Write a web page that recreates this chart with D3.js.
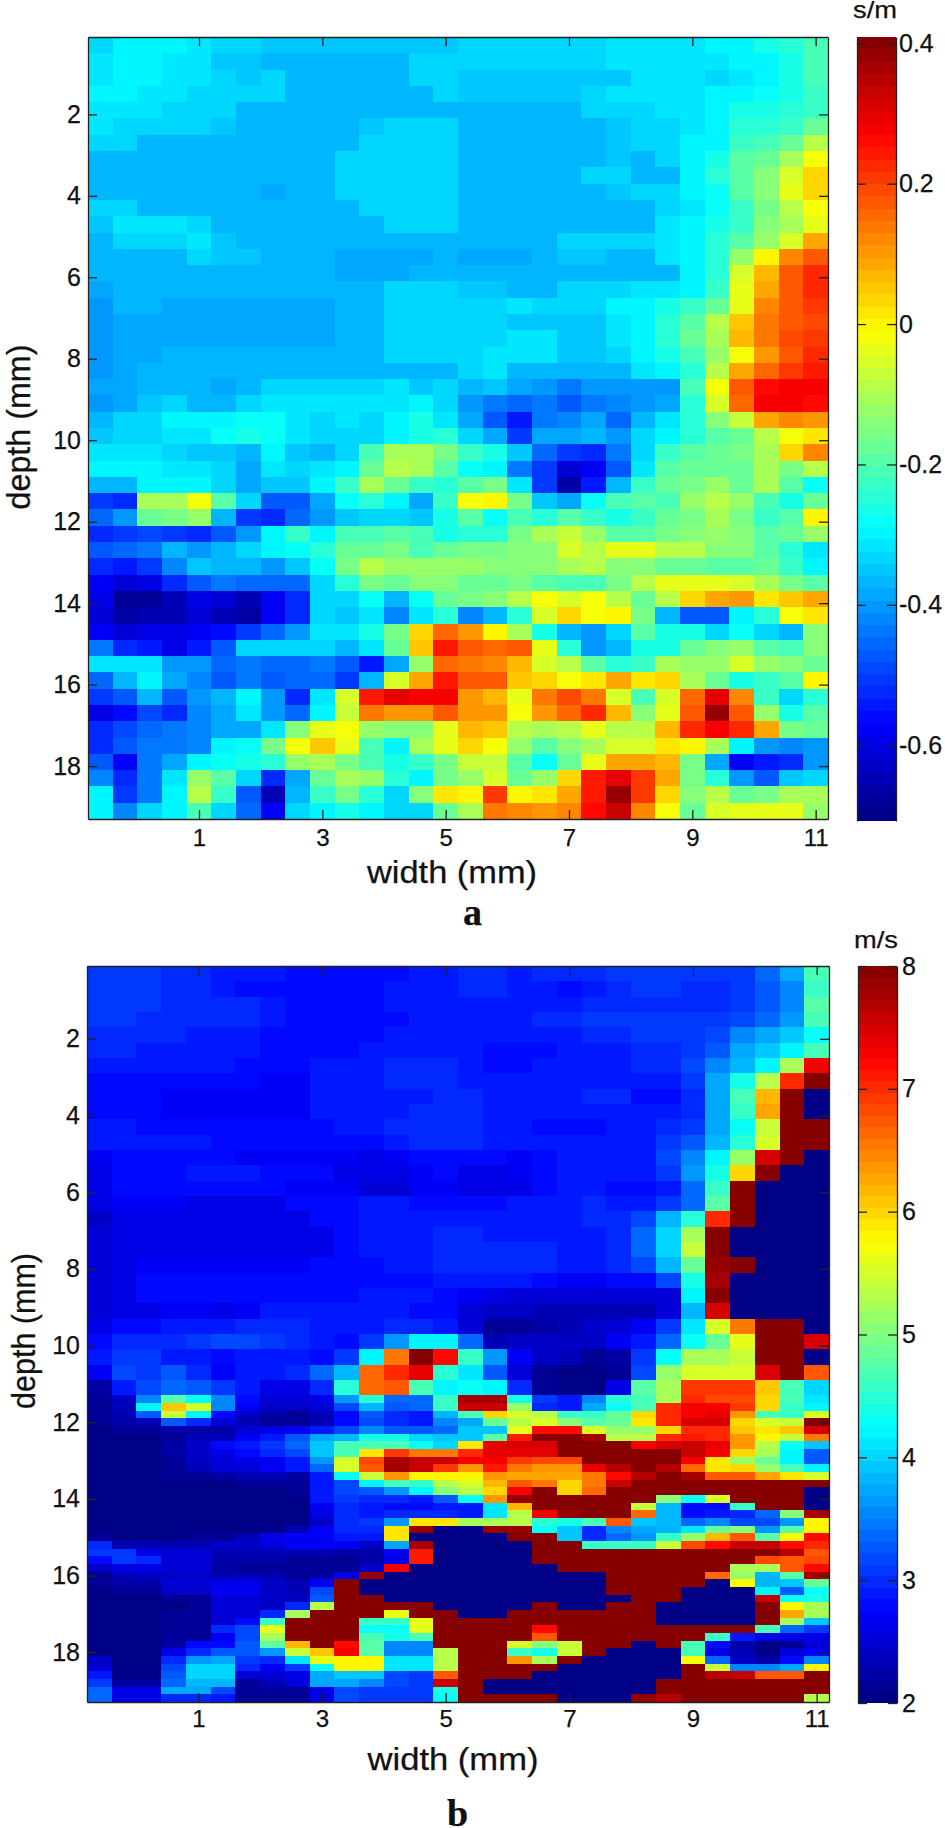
<!DOCTYPE html>
<html>
<head>
<meta charset="utf-8" />
<title>Depth maps</title>
<script src="https://cdn.jsdelivr.net/npm/d3@7"></script>
<style>
    body { margin: 0; background: #fff; }
    svg { display: block; }
    text { font-family: "Liberation Sans", Arial, sans-serif; fill: #111; stroke: #111; stroke-width: 0.25px; }
    .domain, .tick line { stroke: #222; stroke-width: 1.3px; }
    .panel { font-family: "Liberation Serif", serif; font-weight: bold; }
</style>
</head>
<body>
<svg id="chart" width="945" height="1828"></svg>
<script>
var widthTicks = [1, 3, 5, 7, 9, 11];
var depthTicks = [2, 4, 6, 8, 10, 12, 14, 16, 18];
var sigmaTicks = [-0.6, -0.4, -0.2, 0, 0.2, 0.4];
var speedTicks = [2, 3, 4, 5, 6, 7, 8];

// panel a, s/m, one row per 0.4 mm of depth, 30 columns of 0.4 mm
var sigma = [
[-.34,-.30,-.30,-.30,-.32,-.34,-.34,-.35,-.35,-.35,-.35,-.35,-.35,-.35,-.35,-.34,-.34,-.34,-.34,-.34,-.34,-.32,-.32,-.32,-.32,-.30,-.29,-.27,-.25,-.21],
[-.31,-.29,-.29,-.31,-.32,-.35,-.35,-.36,-.36,-.36,-.36,-.36,-.36,-.34,-.34,-.34,-.34,-.34,-.34,-.34,-.34,-.32,-.32,-.32,-.32,-.31,-.30,-.29,-.26,-.21],
[-.32,-.29,-.30,-.31,-.32,-.34,-.35,-.34,-.36,-.36,-.36,-.36,-.36,-.34,-.34,-.35,-.35,-.35,-.35,-.35,-.35,-.35,-.32,-.32,-.32,-.34,-.31,-.30,-.26,-.21],
[-.29,-.29,-.31,-.31,-.34,-.34,-.34,-.34,-.36,-.36,-.36,-.36,-.36,-.36,-.34,-.35,-.35,-.35,-.35,-.35,-.34,-.32,-.32,-.32,-.31,-.30,-.29,-.28,-.26,-.22],
[-.31,-.31,-.31,-.34,-.34,-.34,-.36,-.36,-.36,-.36,-.36,-.36,-.36,-.36,-.37,-.37,-.36,-.36,-.36,-.36,-.34,-.34,-.34,-.32,-.31,-.29,-.27,-.26,-.25,-.22],
[-.32,-.34,-.34,-.34,-.34,-.35,-.36,-.36,-.36,-.36,-.36,-.35,-.34,-.34,-.34,-.36,-.36,-.36,-.36,-.36,-.36,-.35,-.34,-.34,-.31,-.29,-.25,-.24,-.22,-.17],
[-.34,-.34,-.36,-.36,-.36,-.36,-.36,-.36,-.36,-.36,-.36,-.34,-.34,-.34,-.34,-.36,-.36,-.36,-.36,-.36,-.36,-.35,-.34,-.34,-.29,-.29,-.23,-.21,-.18,-.09],
[-.37,-.37,-.37,-.37,-.37,-.37,-.37,-.37,-.37,-.37,-.34,-.34,-.34,-.34,-.34,-.36,-.36,-.36,-.36,-.36,-.36,-.35,-.36,-.34,-.29,-.26,-.20,-.18,-.10,-.02],
[-.37,-.37,-.37,-.37,-.37,-.37,-.37,-.37,-.37,-.37,-.34,-.34,-.34,-.34,-.34,-.36,-.36,-.36,-.36,-.36,-.34,-.34,-.36,-.36,-.30,-.25,-.19,-.14,-.05,.04],
[-.37,-.37,-.37,-.37,-.37,-.37,-.37,-.38,-.37,-.37,-.34,-.34,-.34,-.34,-.34,-.36,-.36,-.36,-.36,-.36,-.36,-.35,-.34,-.34,-.30,-.28,-.20,-.14,-.04,.03],
[-.34,-.34,-.36,-.36,-.36,-.36,-.36,-.36,-.36,-.36,-.36,-.34,-.34,-.34,-.34,-.36,-.36,-.36,-.36,-.36,-.36,-.36,-.36,-.34,-.31,-.28,-.22,-.15,-.08,-.01],
[-.35,-.32,-.32,-.32,-.34,-.36,-.36,-.36,-.36,-.36,-.36,-.36,-.34,-.34,-.34,-.36,-.36,-.36,-.36,-.36,-.36,-.36,-.37,-.32,-.30,-.26,-.22,-.14,-.11,-.04],
[-.36,-.34,-.34,-.34,-.32,-.35,-.36,-.36,-.36,-.37,-.37,-.37,-.37,-.37,-.37,-.37,-.37,-.37,-.36,-.34,-.34,-.34,-.34,-.31,-.29,-.25,-.20,-.12,-.05,.08],
[-.37,-.36,-.36,-.36,-.34,-.35,-.35,-.36,-.36,-.36,-.38,-.38,-.38,-.38,-.37,-.38,-.38,-.38,-.37,-.35,-.35,-.36,-.36,-.32,-.29,-.25,-.12,.00,.12,.18],
[-.37,-.36,-.36,-.36,-.36,-.36,-.36,-.36,-.36,-.36,-.38,-.38,-.38,-.37,-.37,-.37,-.37,-.37,-.37,-.37,-.37,-.37,-.37,-.37,-.29,-.24,-.05,.07,.17,.22],
[-.38,-.37,-.36,-.37,-.37,-.37,-.37,-.36,-.36,-.36,-.36,-.36,-.34,-.34,-.34,-.35,-.35,-.36,-.36,-.34,-.34,-.34,-.32,-.31,-.29,-.22,-.03,.09,.18,.22],
[-.40,-.37,-.37,-.38,-.38,-.38,-.38,-.38,-.38,-.38,-.37,-.37,-.34,-.34,-.34,-.34,-.34,-.31,-.34,-.34,-.34,-.30,-.29,-.27,-.23,-.18,-.03,.12,.18,.21],
[-.40,-.38,-.38,-.38,-.38,-.38,-.38,-.38,-.38,-.38,-.37,-.37,-.34,-.34,-.34,-.34,-.34,-.35,-.35,-.35,-.35,-.32,-.29,-.24,-.19,-.09,.05,.13,.18,.19],
[-.40,-.38,-.38,-.38,-.38,-.38,-.38,-.38,-.38,-.38,-.37,-.37,-.34,-.34,-.34,-.34,-.34,-.32,-.32,-.35,-.35,-.32,-.29,-.24,-.18,-.11,.07,.13,.19,.20],
[-.40,-.38,-.38,-.37,-.37,-.37,-.37,-.37,-.37,-.37,-.36,-.36,-.34,-.34,-.34,-.34,-.31,-.31,-.32,-.35,-.35,-.34,-.29,-.27,-.21,-.12,-.01,.10,.17,.22],
[-.40,-.38,-.36,-.36,-.36,-.36,-.36,-.36,-.36,-.36,-.36,-.36,-.36,-.37,-.37,-.34,-.31,-.36,-.37,-.37,-.37,-.36,-.32,-.30,-.24,-.09,.09,.16,.20,.24],
[-.38,-.38,-.36,-.36,-.37,-.38,-.37,-.34,-.34,-.34,-.34,-.34,-.32,-.35,-.34,-.36,-.35,-.38,-.40,-.43,-.40,-.41,-.41,-.40,-.21,-.02,.18,.26,.27,.27],
[-.41,-.38,-.35,-.34,-.36,-.36,-.34,-.32,-.32,-.31,-.31,-.31,-.31,-.29,-.34,-.40,-.43,-.45,-.44,-.48,-.43,-.42,-.41,-.39,-.24,-.05,.16,.27,.27,.26],
[-.36,-.34,-.33,-.30,-.29,-.29,-.28,-.28,-.31,-.33,-.31,-.33,-.30,-.27,-.31,-.38,-.48,-.54,-.44,-.42,-.39,-.46,-.37,-.31,-.24,-.14,-.07,.09,.12,.11],
[-.35,-.33,-.33,-.32,-.31,-.28,-.27,-.28,-.31,-.33,-.33,-.33,-.30,-.26,-.24,-.33,-.39,-.50,-.39,-.38,-.36,-.41,-.33,-.29,-.24,-.20,-.17,-.09,-.02,.02],
[-.31,-.31,-.31,-.33,-.35,-.35,-.36,-.30,-.35,-.37,-.33,-.21,-.10,-.10,-.16,-.23,-.26,-.35,-.46,-.50,-.52,-.44,-.33,-.23,-.19,-.17,-.15,-.10,.03,.12],
[-.29,-.29,-.30,-.31,-.31,-.34,-.38,-.31,-.34,-.32,-.30,-.17,-.09,-.10,-.20,-.28,-.30,-.43,-.50,-.62,-.58,-.48,-.31,-.20,-.17,-.18,-.18,-.10,-.15,-.09],
[-.37,-.37,-.29,-.29,-.29,-.34,-.38,-.35,-.35,-.30,-.23,-.11,-.18,-.22,-.25,-.20,-.16,-.31,-.50,-.66,-.55,-.37,-.22,-.18,-.15,-.13,-.17,-.11,-.20,-.28],
[-.50,-.52,-.10,-.10,-.01,-.20,-.34,-.48,-.48,-.38,-.28,-.25,-.30,-.38,-.22,-.02,.00,-.15,-.35,-.38,-.28,-.21,-.20,-.21,-.13,-.09,-.13,-.21,-.26,-.17],
[-.46,-.40,-.17,-.16,-.13,-.37,-.50,-.53,-.46,-.40,-.35,-.33,-.33,-.35,-.27,-.20,-.28,-.21,-.25,-.19,-.22,-.26,-.23,-.18,-.15,-.10,-.15,-.23,-.19,.00],
[-.53,-.50,-.49,-.50,-.52,-.48,-.41,-.29,-.22,-.30,-.21,-.21,-.19,-.21,-.27,-.24,-.24,-.15,-.10,-.07,-.12,-.19,-.20,-.16,-.14,-.13,-.14,-.19,-.18,-.12],
[-.48,-.46,-.43,-.37,-.41,-.36,-.33,-.29,-.28,-.24,-.18,-.17,-.16,-.21,-.18,-.16,-.16,-.14,-.14,-.05,-.09,-.03,-.04,-.08,-.09,-.14,-.14,-.19,-.24,-.32],
[-.52,-.54,-.50,-.42,-.35,-.36,-.37,-.40,-.35,-.28,-.15,-.09,-.12,-.13,-.13,-.13,-.14,-.14,-.14,-.10,-.09,-.14,-.14,-.18,-.17,-.19,-.20,-.18,-.23,-.29],
[-.58,-.62,-.60,-.53,-.47,-.44,-.46,-.45,-.45,-.33,-.24,-.16,-.17,-.14,-.14,-.17,-.17,-.15,-.20,-.21,-.21,-.16,-.09,-.03,-.03,-.04,-.05,-.10,-.15,-.19],
[-.60,-.68,-.69,-.64,-.59,-.62,-.64,-.58,-.52,-.34,-.33,-.28,-.37,-.28,-.17,-.15,-.14,-.09,-.02,-.05,-.02,-.09,-.18,-.08,.04,.09,.10,.02,.05,.08],
[-.62,-.66,-.65,-.64,-.62,-.65,-.66,-.58,-.52,-.33,-.35,-.31,-.42,-.32,-.24,-.42,-.36,-.24,-.05,.03,-.02,.00,-.16,-.36,-.47,-.47,-.30,-.25,-.01,.02],
[-.58,-.62,-.60,-.60,-.58,-.56,-.50,-.46,-.41,-.32,-.31,-.27,-.15,.04,.15,.10,.00,-.10,-.26,-.36,-.40,-.33,-.20,-.27,-.27,-.33,-.28,-.33,-.37,-.14],
[-.44,-.52,-.54,-.60,-.54,-.47,-.34,-.33,-.33,-.33,-.37,-.32,-.17,.05,.24,.17,.16,.17,-.03,-.25,-.41,-.36,-.27,-.27,-.17,-.14,-.13,-.20,-.21,-.14],
[-.31,-.32,-.31,-.41,-.41,-.46,-.43,-.45,-.45,-.44,-.48,-.55,-.38,-.12,.15,.14,.12,.06,-.05,-.09,-.20,-.25,-.22,-.10,-.12,-.13,-.06,-.12,-.14,-.18],
[-.46,-.36,-.29,-.38,-.42,-.47,-.44,-.48,-.46,-.46,-.50,-.37,-.05,.08,.24,.17,.18,.05,.03,-.01,.01,.08,.02,.04,-.10,-.18,-.27,-.23,-.19,.00],
[-.50,-.47,-.37,-.47,-.41,-.37,-.30,-.41,-.52,-.31,-.06,.24,.30,.28,.28,.10,.07,-.03,.13,.19,.13,-.06,-.21,-.06,.16,.30,.12,-.23,-.34,-.25],
[-.60,-.56,-.49,-.52,-.42,-.38,-.31,-.41,-.45,-.29,-.07,.14,.10,.10,.17,.11,.10,-.02,.10,.15,.22,.07,-.14,-.03,.18,.38,.18,-.12,-.27,-.19],
[-.53,-.49,-.46,-.44,-.42,-.38,-.38,-.31,-.14,-.03,-.02,-.12,-.14,-.14,-.04,.07,.05,-.08,-.10,-.09,-.04,-.09,-.08,.06,.22,.28,.23,.08,-.15,-.17],
[-.52,-.47,-.44,-.43,-.42,-.30,-.28,-.15,-.02,.05,-.03,-.21,-.29,-.11,-.03,.04,-.02,-.13,-.19,-.14,-.11,-.06,-.05,.02,.00,-.10,-.30,-.40,-.42,-.40],
[-.48,-.58,-.44,-.38,-.30,-.28,-.27,-.25,-.13,-.10,-.15,-.21,-.26,-.22,-.15,-.07,-.07,-.20,-.28,-.17,-.03,.09,.08,.06,-.16,-.38,-.58,-.55,-.52,-.40],
[-.42,-.53,-.43,-.31,-.12,-.19,-.33,-.52,-.38,-.17,-.11,-.12,-.24,-.30,-.15,-.12,-.06,-.18,-.13,.03,.24,.30,.21,.09,-.15,-.24,-.40,-.48,-.35,-.34],
[-.30,-.50,-.44,-.29,-.09,-.22,-.48,-.64,-.37,-.22,-.16,-.25,-.33,-.14,.01,.00,.20,.00,.02,.08,.25,.38,.20,.03,-.14,-.08,-.18,-.16,-.10,-.10],
[-.30,-.42,-.33,-.29,-.21,-.33,-.45,-.58,-.34,-.29,-.27,-.29,-.34,-.33,-.17,-.10,.14,.12,.10,.12,.26,.33,.12,-.02,-.18,-.06,-.03,-.03,-.04,-.13]
];

// panel b, m/s, rows of 0.4 mm down to 11.3 mm
var speed = [
[3.05,3.05,3.05,3.0,2.95,2.9,2.85,2.85,2.8,2.8,2.8,2.8,2.8,2.85,2.9,3.0,3.0,2.9,2.95,2.95,2.95,3.05,3.05,3.05,3.05,3.1,3.1,3.4,3.75,4.65],
[3.05,3.05,3.05,3.0,2.95,2.9,2.8,2.8,2.8,2.8,2.8,2.8,2.9,2.85,2.9,3.0,2.95,2.85,2.85,2.8,2.9,3.0,3.05,3.05,3.0,3.0,3.05,3.3,3.55,4.55],
[3.05,3.05,3.05,3.0,2.95,2.95,2.95,2.9,2.8,2.8,2.8,2.8,2.9,2.9,2.85,2.9,2.9,2.85,2.85,2.9,2.95,2.95,3.0,3.0,3.0,3.0,3.1,3.3,3.55,4.75],
[3.05,3.05,3.0,3.0,2.95,2.95,2.95,2.9,2.8,2.8,2.8,2.8,2.8,2.9,2.85,2.9,2.9,2.85,2.95,2.95,3.05,3.05,3.05,3.05,3.05,3.05,3.15,3.4,3.65,4.65],
[3.0,3.0,2.95,2.95,2.9,2.9,2.9,2.8,2.8,2.8,2.8,2.8,2.9,2.9,2.9,2.9,2.85,2.85,2.9,2.9,2.95,2.95,3.05,3.05,3.05,3.2,3.5,3.75,3.95,4.3],
[2.95,2.95,2.9,2.85,2.85,2.85,2.85,2.75,2.75,2.75,2.75,2.9,2.9,2.9,2.9,2.85,2.8,2.8,2.8,2.85,2.85,2.85,2.95,3.0,3.1,3.3,3.7,3.95,4.2,4.7],
[2.9,2.9,2.85,2.85,2.85,2.85,2.75,2.75,2.75,2.85,2.9,2.9,2.95,2.95,2.95,2.9,2.8,2.8,2.85,2.85,2.85,2.85,2.95,3.0,3.15,3.5,3.85,4.2,5.2,7.3],
[2.8,2.8,2.75,2.75,2.75,2.75,2.75,2.7,2.7,2.85,2.85,2.9,2.95,2.95,2.95,2.9,2.85,2.85,2.85,2.85,2.85,2.85,2.85,2.9,3.1,3.75,4.4,5.3,7.0,8],
[2.8,2.8,2.75,2.7,2.7,2.7,2.7,2.7,2.7,2.85,2.85,2.85,2.85,2.85,2.95,2.95,2.9,2.85,2.85,2.85,2.95,2.95,2.8,2.8,3.0,3.75,4.7,6.2,8,2.05],
[2.8,2.8,2.75,2.7,2.7,2.7,2.7,2.7,2.7,2.85,2.85,2.85,2.9,2.95,2.95,2.95,2.9,2.85,2.85,2.85,2.9,2.9,2.9,2.9,3.0,3.7,4.6,6.3,8,2.05],
[2.85,2.85,2.8,2.8,2.75,2.75,2.75,2.75,2.75,2.75,2.9,2.9,3.0,3.0,2.95,2.95,2.9,2.85,2.8,2.75,2.8,2.85,2.85,3.0,3.1,3.75,4.25,5.4,8,8],
[2.85,2.85,2.85,2.85,2.85,2.8,2.75,2.75,2.75,2.75,2.75,2.8,2.9,2.95,2.95,2.95,2.9,2.85,2.85,2.85,2.9,2.9,2.9,3.05,3.3,3.8,4.5,5.55,8,8],
[2.7,2.75,2.8,2.8,2.8,2.8,2.7,2.7,2.7,2.7,2.7,2.65,2.7,2.75,2.8,2.75,2.75,2.7,2.8,2.9,2.9,2.9,2.9,3.2,3.5,4.2,5.1,7.5,8,2.05],
[2.6,2.75,2.8,2.8,2.9,2.9,2.9,2.75,2.75,2.75,2.6,2.6,2.6,2.7,2.75,2.65,2.65,2.7,2.8,2.9,2.9,2.9,2.85,3.1,3.6,4.35,6.0,8,2.05,2.05],
[2.6,2.75,2.75,2.75,2.75,2.75,2.75,2.75,2.7,2.7,2.7,2.55,2.55,2.7,2.7,2.65,2.65,2.65,2.75,2.85,2.85,2.8,2.75,2.9,3.4,4.6,8,2.05,2.05,2.05],
[2.65,2.7,2.7,2.7,2.65,2.65,2.65,2.65,2.75,2.75,2.75,2.85,2.85,2.8,2.8,2.8,2.75,2.9,2.9,2.9,2.95,2.9,2.9,3.1,3.4,4.75,8,2.05,2.05,2.05],
[2.45,2.65,2.65,2.65,2.65,2.6,2.6,2.6,2.6,2.75,2.75,2.9,2.85,2.85,2.9,2.9,2.9,2.9,2.9,2.9,2.95,3.0,3.2,3.8,4.5,7.0,8,2.05,2.05,2.05],
[2.5,2.65,2.65,2.65,2.65,2.6,2.6,2.6,2.6,2.65,2.75,2.9,2.85,2.85,2.95,2.95,2.9,2.9,2.9,2.9,2.9,2.95,3.4,4.0,5.2,8,2.05,2.05,2.05,2.05],
[2.5,2.65,2.65,2.65,2.65,2.65,2.6,2.6,2.6,2.6,2.75,2.85,2.85,2.9,2.95,2.95,3.0,3.0,3.0,2.9,2.9,2.95,3.4,4.0,5.4,8,2.05,2.05,2.05,2.05],
[2.5,2.65,2.7,2.7,2.7,2.7,2.7,2.7,2.7,2.75,2.75,2.75,2.85,2.9,2.95,2.95,3.0,3.0,3.0,2.9,2.9,2.95,3.15,3.8,4.9,7.9,8,2.05,2.05,2.05],
[2.5,2.6,2.75,2.75,2.75,2.75,2.75,2.75,2.75,2.75,2.75,2.75,2.75,2.8,2.85,2.85,2.85,2.85,2.8,2.7,2.7,2.75,2.75,3.2,4.4,7.8,2.05,2.05,2.05,2.05],
[2.5,2.6,2.75,2.75,2.75,2.75,2.75,2.75,2.8,2.8,2.8,2.85,2.85,2.85,2.75,2.7,2.65,2.55,2.5,2.5,2.5,2.5,2.5,2.55,4.2,8,2.05,2.05,2.05,2.05],
[2.55,2.6,2.65,2.7,2.7,2.65,2.7,2.85,2.85,2.85,2.9,2.9,2.9,2.8,2.75,2.55,2.45,2.4,2.3,2.35,2.35,2.35,2.35,2.5,3.85,7.5,2.05,2.05,2.05,2.05],
[2.65,2.8,2.8,2.9,2.9,2.9,2.95,2.95,2.95,2.9,2.9,2.85,3.0,2.95,2.9,2.55,2.15,2.15,2.25,2.35,2.4,2.5,2.7,3.1,4.1,5.5,6.5,8,8,2.05],
[2.75,2.95,2.95,2.95,3.05,3.15,3.15,3.1,3.0,2.9,2.8,3.1,3.6,4.2,4.2,3.4,2.35,2.4,2.4,2.4,2.45,2.7,2.9,3.4,4.25,4.85,5.6,8,8,7.5],
[2.85,3.05,3.05,2.9,2.85,2.75,2.9,2.9,2.85,2.8,3.1,4.2,6.5,8,7.2,4.55,3.6,2.7,2.4,2.3,2.15,2.2,3.05,4.3,5.2,5.2,5.4,8,8,2.05],
[2.7,3.2,3.1,3.25,2.95,2.7,2.85,2.85,3.0,3.4,3.8,6.6,7.0,7.4,4.5,4.1,3.3,2.5,2.1,2.05,2.05,2.1,3.2,5.1,5.5,5.5,5.5,7.5,8,6.7],
[2.25,2.85,3.2,3.35,3.3,3.05,2.85,2.6,2.65,2.95,4.5,6.6,6.7,4.7,4.2,4.3,4.2,3.0,2.1,2.05,2.05,2.6,4.75,5.2,6.9,6.9,6.9,6.1,4.7,4.0]
];

// panel b from 11.3 mm down, rows of 0.2 mm
var speedDeep = [
[2.15,2.4,3.5,4.8,4.3,3.5,2.75,2.55,2.5,2.65,3.6,4.5,3.4,3.4,4.6,7.8,7.8,4.4,3.1,2.9,3.5,4.5,4.7,5.2,7.0,6.8,6.8,6.0,4.7,4.1],
[2.15,2.35,4.2,6.1,5.5,3.5,2.7,2.45,2.4,2.55,3.2,3.8,3.3,3.4,4.6,7.6,7.6,5.1,3.0,2.9,3.7,4.3,4.7,7.0,7.3,7.3,6.9,6.0,4.6,4.2],
[2.15,2.3,3.3,5.4,4.2,2.8,2.4,2.2,2.15,2.3,2.8,3.3,3.0,2.9,3.8,4.7,6.0,5.5,5.3,4.6,4.6,4.9,6.0,7.0,7.3,7.4,6.4,4.7,4.6,5.5],
[2.1,2.2,2.3,3.3,3.0,2.5,2.3,2.15,2.1,2.3,2.8,3.2,2.95,2.85,3.5,3.7,4.9,5.3,5.5,5.0,4.8,4.9,5.9,7.0,7.5,7.5,6.0,5.5,5.4,8],
[2.05,2.1,2.15,2.2,2.2,2.2,2.5,2.6,2.7,2.85,3.2,3.5,3.3,3.3,3.4,3.9,3.9,5.6,7.2,7.2,5.5,5.1,5.1,6.0,7.0,7.0,6.1,5.9,6.1,7.5],
[2.05,2.05,2.05,2.1,2.3,2.3,2.7,2.85,3.3,3.7,3.8,4.4,4.4,4.0,3.9,3.9,4.8,7.1,8,8,7.8,5.3,5.3,7.0,7.1,7.0,6.4,5.8,5.4,6.5],
[2.05,2.05,2.05,2.2,2.4,2.75,2.85,3.1,3.4,3.9,4.7,4.7,4.7,4.3,4.0,5.9,7.4,7.5,7.5,8,8,8,7.3,7.5,7.6,7.4,6.4,5.3,4.3,3.9],
[2.05,2.05,2.05,2.2,2.4,2.65,2.75,2.95,3.2,3.9,4.7,5.9,6.9,6.5,6.5,7.0,7.4,7.4,7.4,8,8,8,8,8,7.6,7.3,6.0,5.2,4.2,3.3],
[2.05,2.05,2.05,2.1,2.4,2.5,2.6,2.7,2.9,3.6,5.5,6.8,7.8,7.6,7.6,7.3,7.3,6.9,6.8,6.8,8,8,8,8,7.3,5.9,5.1,4.9,4.2,3.3],
[2.05,2.05,2.05,2.1,2.3,2.5,2.55,2.7,2.9,3.4,5.5,6.7,7.8,7.6,6.9,6.4,7.1,6.5,6.4,6.4,7.4,7.7,8,7.7,6.6,5.9,6.0,5.1,4.7,4.2],
[2.05,2.05,2.05,2.1,2.1,2.2,2.3,2.3,2.2,2.9,4.3,5.4,6.4,5.75,5.75,5.8,6.4,6.3,6.3,6.3,6.5,7.2,7.7,8,7.8,6.7,6.7,6.3,5.9,5.5],
[2.05,2.05,2.05,2.05,2.05,2.05,2.1,2.1,2.1,2.9,3.2,4.2,4.7,4.6,5.3,5.5,6.2,6.7,6.5,6.0,6.5,7.6,8,8,8,8,8,8,8,8],
[2.05,2.05,2.05,2.05,2.05,2.05,2.05,2.05,2.1,2.9,3.2,3.3,3.6,4.2,5.0,5.3,6.0,7.3,8,6.0,6.6,8,8,8,8,8,8,8,8,2.05],
[2.05,2.05,2.05,2.05,2.05,2.05,2.05,2.05,2.05,2.85,3.05,3.0,2.95,2.85,3.3,4.3,6.4,7.9,8,8,8,8,8,5.0,4.3,5.5,8,8,8,2.05],
[2.05,2.05,2.05,2.05,2.05,2.05,2.05,2.05,2.05,2.7,3.0,2.85,2.75,2.75,2.9,2.9,4.1,6.2,8,8,8,8,5.4,3.8,2.8,2.8,4.6,8,8,2.05],
[2.05,2.05,2.05,2.05,2.05,2.05,2.05,2.05,2.05,2.6,3.0,2.9,3.0,3.0,3.0,2.85,4.1,5.3,7.3,7.9,8,8,6.6,3.8,2.8,2.85,2.95,3.4,5.0,7.8],
[2.05,2.05,2.05,2.05,2.05,2.05,2.05,2.05,2.05,2.4,3.0,3.1,3.6,5.9,5.9,5.2,5.2,5.3,4.5,4.4,4.7,6.7,3.9,3.8,3.4,3.5,3.2,3.2,3.6,5.8],
[2.05,2.05,2.05,2.05,2.05,2.05,2.05,2.05,2.3,2.7,3.0,3.0,5.9,7.9,2.05,2.05,7.9,7.9,4.3,3.9,3.0,3.5,3.7,3.8,4.1,4.9,5.0,3.6,4.8,5.8],
[2.15,2.05,2.05,2.05,2.1,2.1,2.3,2.6,2.7,2.7,2.9,2.9,5.9,2.05,2.05,2.05,2.05,8,8,3.9,3.0,3.4,3.6,4.6,5.1,6.2,6.7,4.8,5.7,7.2],
[3.0,2.3,2.3,2.3,2.3,2.4,2.4,2.5,2.7,2.7,2.7,2.4,3.7,7.8,2.05,2.05,2.05,2.05,8,8,4.6,4.6,4.6,5.4,6.8,7.2,7.6,7.6,7.2,7.0],
[3.05,3.1,2.6,2.5,2.5,2.35,2.35,2.3,2.3,2.3,2.2,2.2,2.7,7.1,2.05,2.05,2.05,2.05,8,8,8,8,8,8,8,8,8,8,7.7,6.7],
[2.75,3.1,2.95,2.5,2.5,2.2,2.2,2.2,2.15,2.15,2.1,2.2,2.6,7.1,2.05,2.05,2.05,2.05,8,8,8,8,8,8,8,8,8,6.8,6.7,6.8],
[2.4,2.65,2.65,2.5,2.5,2.2,2.15,2.15,2.1,2.1,2.1,2.4,7.3,2.05,2.05,2.05,2.05,2.05,2.05,8,8,8,8,8,8,8,5.2,5.2,6.7,7.2],
[2.15,2.3,2.4,2.45,2.45,2.3,2.3,2.3,2.15,2.2,2.6,7.9,2.05,2.05,2.05,2.05,2.05,2.05,2.05,2.05,2.05,8,8,8,8,6.6,5.1,3.8,4.8,7.8],
[2.1,2.25,2.25,2.5,2.5,2.6,2.6,2.4,2.3,2.7,8,2.05,2.05,2.05,2.05,2.05,2.05,2.05,2.05,2.05,2.05,8,8,8,8,2.05,5.7,3.8,3.9,4.9],
[2.05,2.15,2.15,2.4,2.4,2.7,2.7,2.4,2.3,3.2,8,2.05,2.05,2.05,2.05,2.05,2.05,2.05,2.05,2.05,2.05,8,8,8,2.05,2.05,2.05,4.2,3.3,4.3],
[2.05,2.05,2.05,2.15,2.15,2.5,2.5,2.4,2.4,3.3,8,8,2.05,2.05,2.05,2.05,2.05,2.05,2.05,2.05,2.05,2.05,8,8,2.05,2.05,2.05,7.6,4.3,4.4],
[2.05,2.05,2.05,2.05,2.15,2.5,2.5,2.4,3.0,5.3,8,8,8,8,2.05,2.05,2.05,2.05,8,2.05,2.05,8,8,2.05,2.05,2.05,2.05,8,5.8,5.2],
[2.05,2.05,2.05,2.1,2.15,2.5,2.5,3.0,5.2,8,8,8,5.6,8,8,2.05,2.05,8,8,8,8,8,8,2.05,2.05,2.05,2.05,8,6.3,5.2],
[2.05,2.05,2.05,2.1,2.15,2.5,2.75,4.6,8,8,8,4.6,4.6,5.6,8,8,8,8,8,8,8,8,8,2.05,2.05,2.05,2.05,8,5.2,3.9],
[2.05,2.05,2.05,2.1,2.1,3.0,3.2,5.6,8,8,8,4.3,4.3,5.6,8,8,8,8,7.2,8,8,8,8,8,8,8,8,4.7,3.4,3.1],
[2.05,2.05,2.05,2.1,2.1,2.7,3.2,5.2,8,8,8,4.7,4.4,4.7,8,8,8,8,6.7,8,8,8,8,8,8,4.6,2.9,2.6,2.6,2.6],
[2.05,2.05,2.05,2.2,2.8,2.75,3.3,4.8,6.2,8,7.2,4.8,3.5,3.5,8,8,8,5.5,5.0,5.4,8,8,2.05,8,4.7,2.8,2.2,2.05,2.1,2.5],
[2.05,2.05,2.05,2.6,2.95,3.3,3.3,3.6,5.4,6.1,7.3,4.8,3.5,3.5,5.3,8,8,4.6,4.4,5.4,8,2.05,2.05,2.05,4.7,2.6,2.3,2.05,2.5,2.7],
[2.4,2.05,2.05,3.0,3.6,3.75,3.1,3.0,4.1,5.6,5.75,5.75,4.1,4.1,5.3,8,8,6.4,5.2,8,2.05,2.05,2.05,2.05,5.7,3.4,2.4,2.2,2.8,3.5],
[2.5,2.05,2.05,3.2,4.0,4.0,2.95,2.7,3.1,4.3,5.75,5.75,4.1,4.1,5.3,8,8,8,8,2.05,2.05,2.05,2.05,2.05,8,5.4,3.5,3.5,3.7,5.8],
[2.9,2.05,2.05,3.3,4.05,4.05,2.5,2.5,2.6,3.7,3.95,3.95,3.2,3.1,6.7,8,8,8,2.05,2.05,2.05,2.05,2.05,2.05,8,7.7,7.6,6.7,6.7,8],
[3.1,2.2,2.2,3.4,3.8,3.85,2.15,2.3,2.5,3.7,3.7,3.5,3.2,3.1,7.6,8,2.05,2.05,2.05,2.05,2.05,2.05,2.05,8,8,8,8,8,8,8],
[3.4,2.6,2.6,3.7,3.7,3.2,2.15,2.1,2.1,2.6,3.2,3.1,3.05,3.05,4.4,8,2.05,2.05,2.05,2.05,2.05,2.05,2.05,8,8,8,8,8,8,8],
[3.4,2.6,2.6,3.0,3.0,2.9,2.1,2.1,2.1,2.6,3.2,3.1,3.05,3.05,4.3,8,8,8,8,2.05,2.05,2.05,7.9,7.7,8,8,8,8,8,5.3]
];

// matlab jet, 64 steps
var jet = d3.range(64).map(function(i) {
    var t = (i + 0.5) / 64;
    var ramp = function(c) { return Math.max(0, Math.min(1, 1.5 - Math.abs(4 * t - c))); };
    return d3.rgb(255 * ramp(3), 255 * ramp(2), 255 * ramp(1)).formatHex();
});

var svg = d3.select("#chart");

function drawMap(opts) {
    var x = d3.scaleLinear().domain([-0.8, 11.2]).range([opts.left, opts.right]);
    var y = d3.scaleLinear().domain([0.1, 19.3]).range([opts.top, opts.bottom]);
    var color = d3.scaleQuantize().domain(opts.range).range(jet);
    var g = svg.append("g");

    opts.blocks.forEach(function(block) {
        block.rows.forEach(function(row, r) {
            g.append("g").selectAll("rect")
                .data(row)
                .enter().append("rect")
                .attr("x", function(d, c) { return x(-0.8 + 0.4 * c); })
                .attr("width", x(0.4) - x(0))
                .attr("y", y(block.from + block.step * r))
                .attr("height", y(block.step) - y(0))
                .attr("shape-rendering", "crispEdges")
                .attr("fill", function(d) { return color(d); });
        });
    });

    var noLabel = function() { return ""; };
    g.append("g").attr("transform", "translate(0," + opts.bottom + ")")
        .call(d3.axisBottom(x).tickValues(widthTicks).tickSizeInner(-9).tickSizeOuter(0).tickPadding(opts.xPad))
        .attr("font-size", 24);
    g.append("g").attr("transform", "translate(0," + opts.top + ")")
        .call(d3.axisTop(x).tickValues(widthTicks).tickFormat(noLabel).tickSizeInner(-9).tickSizeOuter(0));
    g.append("g").attr("transform", "translate(" + opts.left + ",0)")
        .call(d3.axisLeft(y).tickValues(depthTicks).tickSizeInner(-9).tickSizeOuter(0).tickPadding(7))
        .attr("font-size", 25);
    g.append("g").attr("transform", "translate(" + opts.right + ",0)")
        .call(d3.axisRight(y).tickValues(depthTicks).tickFormat(noLabel).tickSizeInner(-9).tickSizeOuter(0));
    g.selectAll("text").attr("font-family", null);

    g.append("text").text("width (mm)")
        .attr("x", opts.labelX).attr("y", opts.widthY)
        .attr("text-anchor", "middle").attr("font-size", 31)
        .attr("textLength", opts.widthLen).attr("lengthAdjust", "spacingAndGlyphs");
    g.append("text").text("depth (mm)")
        .attr("transform", "translate(" + opts.depthX + "," + opts.depthY + ") rotate(-90)")
        .attr("text-anchor", "middle").attr("font-size", 33)
        .attr("textLength", opts.depthLen).attr("lengthAdjust", "spacingAndGlyphs");

    // colour bar
    var bar = svg.append("g");
    var cy = d3.scaleLinear().domain(opts.range).range([opts.barBottom, opts.barTop]);
    var step = (opts.range[1] - opts.range[0]) / 64;
    bar.selectAll("rect")
        .data(jet)
        .enter().append("rect")
        .attr("x", opts.barLeft)
        .attr("width", opts.barRight - opts.barLeft)
        .attr("y", function(d, i) { return cy(opts.range[0] + step * (i + 1)); })
        .attr("height", cy(0) - cy(step))
        .attr("shape-rendering", "crispEdges")
        .attr("fill", function(d) { return d; });
    bar.append("g").attr("transform", "translate(" + opts.barRight + ",0)")
        .call(d3.axisRight(cy).tickValues(opts.barTicks).tickFormat(function(d) { return String(d); })
            .tickSizeInner(-9).tickSizeOuter(0).tickPadding(opts.barPad))
        .attr("font-size", 25);
    bar.append("g").attr("transform", "translate(" + opts.barLeft + ",0)")
        .call(d3.axisLeft(cy).tickValues(opts.barTicks).tickFormat(noLabel).tickSizeInner(-9).tickSizeOuter(0));
    bar.selectAll("text").attr("font-family", null);
    bar.append("text").text(opts.unit)
        .attr("x", opts.unitX).attr("y", opts.unitY).attr("font-size", 24)
        .attr("textLength", 44).attr("lengthAdjust", "spacingAndGlyphs");

    svg.append("text").attr("class", "panel").text(opts.panel)
        .attr("x", opts.panelX).attr("y", opts.panelY).attr("font-size", 38);
}

drawMap({
    blocks: [{ rows: sigma, from: 0.1, step: 0.4 }],
    range: [-0.708, 0.409], unit: "s/m", panel: "a", barTicks: sigmaTicks,
    left: 88, right: 828, top: 37, bottom: 819, xPad: 10, barPad: 3,
    barLeft: 857, barRight: 896, barTop: 37, barBottom: 821,
    labelX: 452, widthY: 883, widthLen: 170, depthX: 30, depthY: 427, depthLen: 165,
    unitX: 853, unitY: 18, panelX: 463, panelY: 925
});

drawMap({
    blocks: [{ rows: speed, from: 0.1, step: 0.4 }, { rows: speedDeep, from: 11.3, step: 0.2 }],
    range: [2, 8], unit: "m/s", panel: "b", barTicks: speedTicks,
    left: 87, right: 829, top: 966, bottom: 1702, xPad: 8, barPad: 5,
    barLeft: 858, barRight: 897, barTop: 966, barBottom: 1703,
    labelX: 453, widthY: 1770, widthLen: 171, depthX: 35, depthY: 1331, depthLen: 156,
    unitX: 854, unitY: 948, panelX: 447, panelY: 1826
});
</script>
</body>
</html>
